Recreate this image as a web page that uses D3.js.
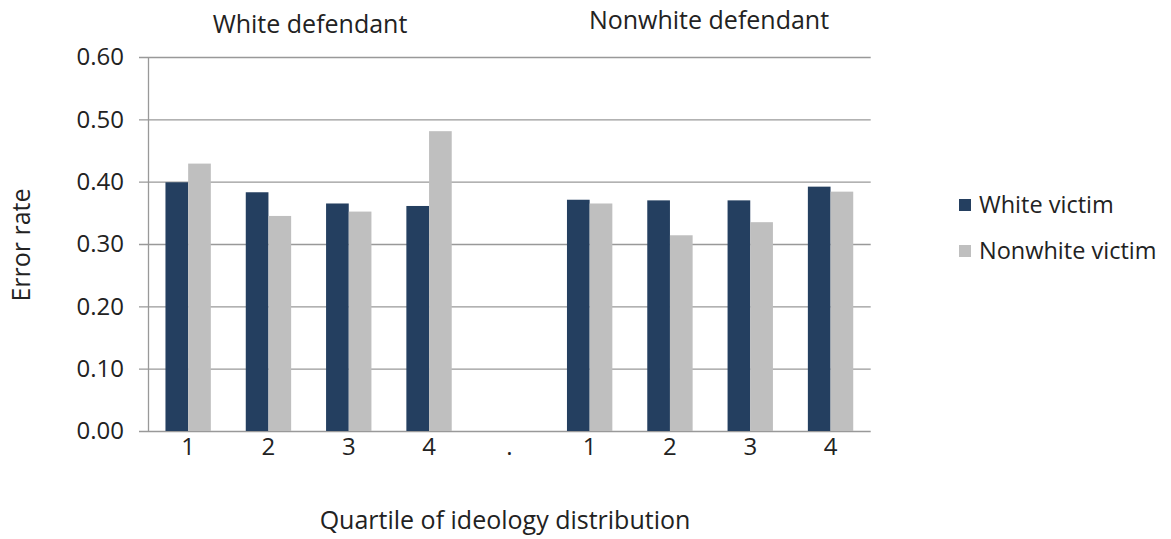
<!DOCTYPE html>
<html><head><meta charset="utf-8">
<script src="https://cdn.jsdelivr.net/npm/d3@7"></script>
<style>body{margin:0;background:#fff}svg{display:block}text{font-family:"Open Sans",sans-serif;fill:#222}</style>
</head><body>
<script>
const categories = ["1","2","3","4",".","1 ","2 ","3 ","4 "];
const tickLabels = ["1","2","3","4",".","1","2","3","4"];
const seriesNames = ["White victim","Nonwhite victim"];
const whiteVictim = [0.399,0.383,0.365,0.361,null,0.371,0.370,0.370,0.392];
const nonwhiteVictim = [0.429,0.345,0.352,0.481,null,0.365,0.314,0.335,0.384];
const panelTitles = ["White defendant","Nonwhite defendant"];
const yTicks = [0,0.1,0.2,0.3,0.4,0.5,0.6];
const colors = ["#243F60","#BFBFBF"];

const W=1171,H=539;
const svg=d3.select("body").append("svg").attr("width",W).attr("height",H);
const x=d3.scaleBand().domain(categories).range([148,870.7]).paddingInner(0.435).paddingOuter(0.2175);
const xs=d3.scaleBand().domain(seriesNames).range([0,x.bandwidth()]);
const y=d3.scaleLinear().domain([0,0.6]).range([431,57]);

// gridlines
svg.append("g").selectAll("line").data(yTicks).join("line")
 .attr("x1",139).attr("x2",870.7).attr("y1",d=>y(d)+0.5).attr("y2",d=>y(d)+0.5)
 .attr("stroke","#999").attr("stroke-width",1.3);
svg.append("line").attr("x1",148.5).attr("x2",148.5).attr("y1",y(0.6)).attr("y2",y(0)).attr("stroke","#999").attr("stroke-width",1.3);

// y labels
svg.append("g").selectAll("text").data(yTicks).join("text")
 .attr("x",124).attr("y",d=>y(d)).attr("dy","0.35em").attr("text-anchor","end")
 .attr("font-size",24).text(d=>d.toFixed(2));

// bars
const series=[whiteVictim,nonwhiteVictim];
series.forEach((vals,si)=>{
  svg.append("g").selectAll("rect").data(vals.map((v,i)=>({v,c:categories[i]})).filter(d=>d.v!=null)).join("rect")
   .attr("x",d=>x(d.c)+xs(seriesNames[si])).attr("width",xs.bandwidth())
   .attr("y",d=>y(d.v)).attr("height",d=>y(0)-y(d.v)).attr("fill",colors[si]);
});

// x labels
svg.append("g").selectAll("text").data(categories).join("text")
 .attr("x",d=>x(d)+x.bandwidth()/2).attr("y",447).attr("dy","0.35em").attr("text-anchor","middle")
 .attr("font-size",24).text((d,i)=>tickLabels[i]);

svg.append("text").attr("x",505).attr("y",520).attr("dy","0.35em").attr("text-anchor","middle").attr("font-size",25).text("Quartile of ideology distribution");
svg.append("text").attr("transform","translate(21,245) rotate(-90)").attr("dy","0.35em").attr("text-anchor","middle").attr("font-size",25).text("Error rate");

// panel titles
svg.append("text").attr("x",310).attr("y",24).attr("dy","0.35em").attr("text-anchor","middle").attr("font-size",25).text(panelTitles[0]);
svg.append("text").attr("x",709).attr("y",20).attr("dy","0.35em").attr("text-anchor","middle").attr("font-size",25).text(panelTitles[1]);

// legend
const lg=svg.append("g").selectAll("g").data(seriesNames).join("g").attr("transform",(d,i)=>`translate(959,${205+i*46})`);
lg.append("rect").attr("x",0).attr("y",-6).attr("width",12).attr("height",12).attr("fill",(d,i)=>colors[i]);
lg.append("text").attr("x",20).attr("y",0).attr("dy","0.35em").attr("font-size",23.5).text(d=>d);
</script>
</body></html>
